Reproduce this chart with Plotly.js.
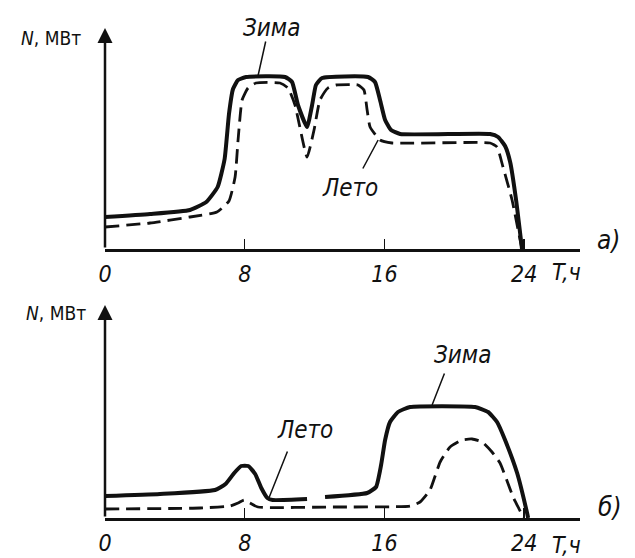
<!DOCTYPE html>
<html>
<head>
<meta charset="utf-8">
<script src="https://cdn.plot.ly/plotly-3.0.1.min.js"></script>
<style>html,body{margin:0;padding:0;background:#fff;}#chart{width:635px;height:558px;}</style>
</head>
<body>
<div id="chart"></div>
<script>
// ---- Data (hours, relative load) ----
// a) top chart
const topZimaT = [0, 2.58, 4.87, 5.8, 6.45, 6.85, 7.1, 7.33, 7.62, 8.08, 10.31, 10.71, 11.05, 11.57, 11.86, 12.08, 12.43, 15.06, 15.46, 15.75, 16.04, 16.38, 16.9, 22.05, 22.51, 22.91, 23.2, 23.54, 23.88];
const topZimaN = [32, 35, 39, 47, 62, 90, 135, 160, 169, 172, 172, 167, 144, 122, 144, 164, 171, 172, 167, 149, 129, 119, 115, 115, 112, 103, 87, 49, 0];
const topLetoT = [0, 2.58, 4.87, 6.41, 7.1, 7.45, 7.62, 7.85, 8.19, 8.65, 10.02, 10.48, 10.88, 11.57, 11.97, 12.31, 12.77, 13.23, 14.49, 14.83, 15.01, 15.18, 15.75, 16.44, 22.05, 22.45, 22.79, 23.31, 23.77, 23.88];
const topLetoN = [22, 26, 32, 37, 48, 72, 109, 149, 161, 166, 166, 161, 144, 92, 119, 149, 161, 164, 164, 159, 139, 122, 109, 106, 106, 102, 82, 49, 9, 0];
// б) bottom chart
const botZimaT = [0, 3.15, 6.3, 6.9, 7.4, 7.8, 8.2, 8.6, 8.95, 9.3, 9.6, 11.57, null, 12.6, 15.01, 15.52, 15.81, 16.04, 16.32, 16.78, 17.47, 21.19, 21.94, 22.45, 22.91, 23.6, 24.17, 24.23];
const botZimaN = [22, 24, 28, 34, 45, 52, 52, 44, 30, 20, 18, 19, null, 21, 25, 31, 53, 78, 96, 106, 111, 111, 106, 96, 78, 45, 5, 0];
const botLetoT = [0, 5.44, 7.16, 7.62, 7.96, 8.3, 8.76, 12.89, 17.47, 18.04, 18.61, 19.19, 19.76, 20.45, 21.02, 21.59, 22.16, 22.62, 23.37, 23.88, 23.94];
const botLetoN = [9, 10, 12, 15, 18, 15, 11, 11, 12, 16, 28, 56, 71, 78, 79, 76, 66, 55, 21, 3, 0];

const tickVals = [0, 8, 16, 24];
const tickText = ['0', '8', '16', '24'];

const FONT = 'DejaVu Sans Condensed, DejaVu Sans, sans-serif';
const zimaLine = {color: '#111', width: 4, shape: 'spline', smoothing: 0.45};
const letoLine = {color: '#111', width: 2.8, dash: '14px,7px', shape: 'spline', smoothing: 0.45};

const traces = [
  {x: topZimaT, y: topZimaN, mode: 'lines', line: zimaLine, xaxis: 'x', yaxis: 'y', name: 'Зима', connectgaps: false},
  {x: topLetoT, y: topLetoN, mode: 'lines', line: letoLine, xaxis: 'x', yaxis: 'y', name: 'Лето'},
  {x: botZimaT, y: botZimaN, mode: 'lines', line: zimaLine, xaxis: 'x2', yaxis: 'y2', name: 'Зима', connectgaps: false},
  {x: botLetoT, y: botLetoN, mode: 'lines', line: letoLine, xaxis: 'x2', yaxis: 'y2', name: 'Лето'}
];

const xDom = [105/635, 580/635];
function xAxis(anchor) {
  return {
    domain: xDom, range: [0, 27.2], anchor: anchor,
    showgrid: false, zeroline: false,
    showline: true, linecolor: '#111', linewidth: 3,
    tickvals: tickVals, ticktext: tickText,
    ticks: 'inside', ticklen: 10, tickwidth: 1.5, tickcolor: '#111',
    tickfont: {family: FONT, size: 23, color: '#111', style: 'italic'},
    ticklabelstandoff: 2,
    automargin: false, fixedrange: true
  };
}
function yAxis(anchor, dom, top) {
  return {
    domain: dom, range: [0, top], anchor: anchor,
    showgrid: false, zeroline: false, showline: false,
    showticklabels: false, ticks: '', automargin: false, fixedrange: true
  };
}

const txt = (x, y, text, xr, yr, size) => ({
  x: x, y: y, xref: xr, yref: yr, text: text, showarrow: false,
  font: {family: FONT, size: size, color: '#111', style: 'italic'}
});
const ptxt = (x, y, text, size, italic) => ({
  x: x, y: y, xref: 'paper', yref: 'paper', text: text, showarrow: false,
  xanchor: 'center', yanchor: 'middle',
  font: {family: FONT, size: size, color: '#111', style: italic ? 'italic' : 'normal'}
});
const ptr = (x, y, ax, ay, xr, yr) => ({
  x: x, y: y, ax: ax, ay: ay, xref: xr, yref: yr, axref: xr, ayref: yr,
  text: '', showarrow: true, arrowhead: 0, arrowwidth: 1.5, arrowcolor: '#111'
});
const yArrow = (top, xr, yr) => ({
  x: 0, y: top, ax: 0, ay: 0, xref: xr, yref: yr, axref: xr, ayref: yr,
  text: '', showarrow: true, arrowhead: 2, arrowsize: 1.2, arrowwidth: 2.5, arrowcolor: '#111'
});

const annotations = [
  // top chart
  yArrow(221, 'x', 'y'),
  ptxt(51/635, 1 - 38/558, '<i>N</i>, МВт', 19, false),
  txt(9.56, 221, 'Зима', 'x', 'y', 24),
  ptr(8.76, 173, 9.22, 209, 'x', 'y'),
  txt(14.03, 61, 'Лето', 'x', 'y', 24),
  ptr(15.64, 109, 14.72, 79, 'x', 'y'),
  ptxt(608/635, 1 - 240/558, 'а)', 26, true),
  ptxt(566/635, 1 - 272/558, 'T,ч', 23, true),
  // bottom chart
  yArrow(213, 'x2', 'y2'),
  ptxt(56/635, 1 - 313/558, '<i>N</i>, МВт', 19, false),
  txt(20.45, 163, 'Зима', 'x2', 'y2', 24),
  ptr(18.73, 113, 19.47, 146, 'x2', 'y2'),
  txt(11.45, 88, 'Лето', 'x2', 'y2', 24),
  ptr(9.34, 18, 10.48, 68, 'x2', 'y2'),
  ptxt(610/635, 1 - 507/558, 'б)', 26, true),
  ptxt(566/635, 1 - 545/558, 'T,ч', 23, true)
];

const layout = {
  width: 635, height: 558,
  margin: {l: 0, r: 0, t: 0, b: 0},
  paper_bgcolor: '#fff', plot_bgcolor: '#fff',
  showlegend: false,
  xaxis: xAxis('y'),
  yaxis: yAxis('x', [(558-249)/558, (558-28)/558], 221),
  xaxis2: xAxis('y2'),
  yaxis2: yAxis('x2', [(558-518)/558, (558-305)/558], 213),
  annotations: annotations
};

Plotly.newPlot('chart', traces, layout, {staticPlot: true, displayModeBar: false});
</script>
</body>
</html>
